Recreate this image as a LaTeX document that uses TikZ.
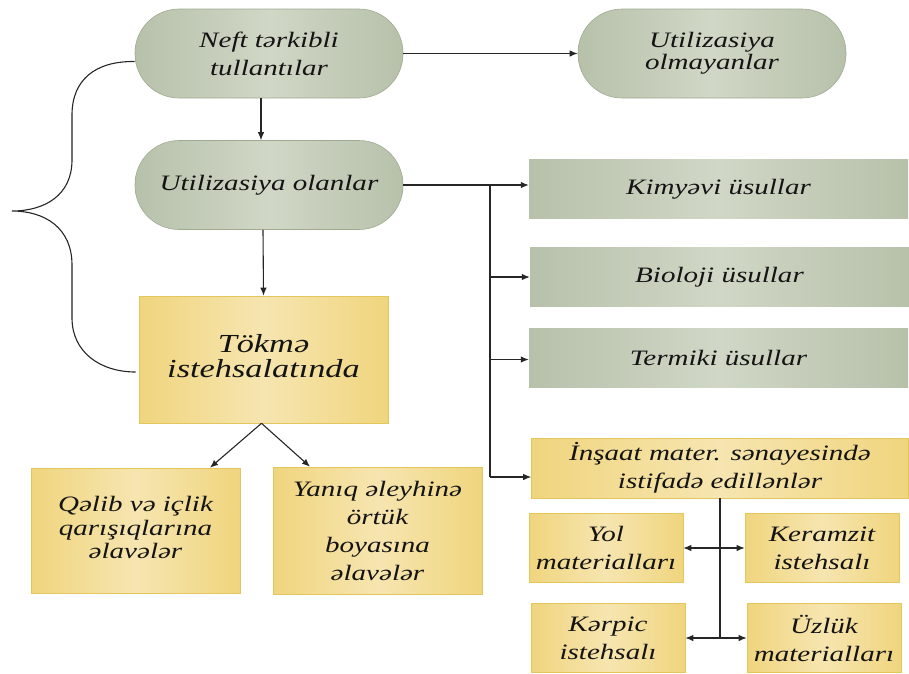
\documentclass[tikz,border=0pt]{standalone}
\usepackage{fontspec}
\setmainfont{Liberation Serif}[ItalicFont={Liberation Serif Italic}, FakeStretch=1.32]
\usetikzlibrary{arrows.meta}
\definecolor{grA}{HTML}{B7C1AA}
\definecolor{grB}{HTML}{D0D7C6}
\definecolor{grE}{HTML}{A0AA93}
\definecolor{yeA}{HTML}{F0D57E}
\definecolor{yeB}{HTML}{F6E5B0}
\definecolor{yeE}{HTML}{E3C65C}
\newcommand{\rlines}[2]{\raisebox{#1}{\begin{tabular}{@{}c@{}}#2\end{tabular}}}
\begin{document}
\begin{tikzpicture}[x=1pt,y=-1pt,
  txt/.style={font=\itshape\fontsize{22}{28}\selectfont, align=center, text=black!92, inner sep=0pt},
  pill/.style={txt, draw=grE, line width=0.6pt, left color=grA, right color=grA, middle color=grB,
    rounded corners=44pt, minimum width=268pt, minimum height=89pt},
  grect/.style={txt, left color=grA, right color=grA, middle color=grB, minimum width=379pt, minimum height=59pt},
  ybox/.style={txt, draw=yeE, line width=0.6pt, left color=yeA, right color=yeA, middle color=yeB},
  smallbox/.style={ybox, minimum width=154pt, minimum height=69pt},
  arr/.style={-{Latex[length=8pt,width=6.5pt]}, line width=1.1pt, black!85},
  ln/.style={line width=1.1pt, black!85}]
\useasboundingbox (0,0) rectangle (909,673);

% top level
\node[pill] (n1) at (269,53.5) {Neft tərkibli\\tullantılar};
\node[pill, font=\itshape\fontsize{22}{22}\selectfont] (n2) at (712,53.5) {Utilizasiya\\olmayanlar};
\node[pill] (n3) at (269,185) {Utilizasiya olanlar};

% methods
\node[grect] (kim) at (718.5,189) {Kimyəvi üsullar};
\node[grect] (bio) at (719.5,277) {Bioloji üsullar};
\node[grect] (ter) at (718.5,357.5) {Termiki üsullar};
\node[ybox, minimum width=377pt, minimum height=60pt] (ins) at (720,468) {İnşaat mater. sənayesində\\istifadə edillənlər};

% construction materials
\node[smallbox] (yol) at (606,548) {Yol\\materialları};
\node[smallbox] (ker) at (822,548) {Keramzit\\istehsalı};
\node[smallbox] (kp) at (608,638) {Kərpic\\istehsalı};
\node[smallbox] (uz) at (824,638) {Üzlük\\materialları};

% foundry
\node[ybox, minimum width=249pt, minimum height=127pt, font=\itshape\fontsize{26}{23}\selectfont] (tok) at (263.5,359.5) {\rlines{8pt}{Tökmə\\istehsalatında}};
\node[ybox, minimum width=209pt, minimum height=125pt, font=\itshape\fontsize{22}{23.5}\selectfont] (qel) at (135.5,530.5) {\rlines{8pt}{Qəlib və içlik\\qarışıqlarına\\əlavələr}};
\node[ybox, minimum width=209pt, minimum height=127pt] (yan) at (377.5,530.5) {Yanıq əleyhinə\\örtük\\boyasına\\əlavələr};

% connectors
\draw[arr] (n1.east) -- (n2.west);
\draw[arr] ([xshift=-8pt]n1.south) -- ([xshift=-8pt]n3.north);
\draw[arr] ([xshift=-6pt]n3.south) -- (tok.north);

\coordinate (tip) at (12,211);
\draw[ln] ([yshift=-8pt]n1.west) .. controls (95,61) and (72,80) .. (72,115) -- (72,160)
  .. controls (72,195) and (45,211) .. (tip)
  .. controls (45,211) and (72,228) .. (72,265) -- (72,318)
  .. controls (72,352) and (100,372) .. ([yshift=-12.5pt,xshift=-3pt]tok.west);

\coordinate (tx) at (490,185);
\coordinate (insin) at ([yshift=-9pt]ins.west);
\draw[ln] (n3.east) -- (tx) -- (tx |- insin);
\draw[arr] (tx) -- (tx -| kim.west);
\draw[arr] (tx |- bio.west) -- (bio.west);
\draw[arr] ([yshift=-2pt]tx |- ter.west) -- ([yshift=-2pt]ter.west);
\draw[arr] (tx |- insin) -- (insin);

\coordinate (apex) at ([xshift=-2pt]tok.south);
\draw[arr] (apex) -- ([xshift=74.5pt]qel.north);
\draw[arr] (apex) -- ([xshift=-67.5pt]yan.north);

\draw[ln] (ins.south) -- (ins.south |- uz.west);
\draw[arr] (ins.south |- yol.east) -- (yol.east);
\draw[arr] (ins.south |- ker.west) -- (ker.west);
\draw[arr] (ins.south |- kp.east) -- (kp.east);
\draw[arr] (ins.south |- uz.west) -- (uz.west);
\end{tikzpicture}
\end{document}
